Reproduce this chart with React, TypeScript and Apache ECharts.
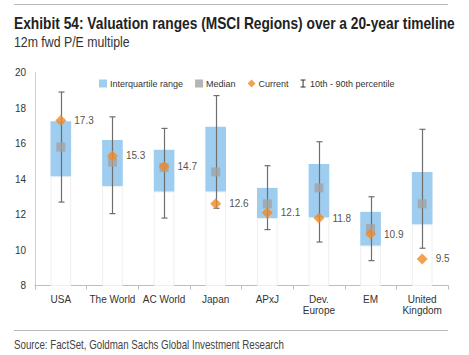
import React, { useEffect, useRef } from "react";
import * as echarts from "echarts";

const categories = ["USA", "The World", "AC World", "Japan", "APxJ", "Dev.\nEurope", "EM", "United\nKingdom"];
const p10 = [12.7, 12.05, 11.8, 12.35, 11.15, 10.45, 9.4, 10.1];
const p90 = [18.9, 17.5, 16.85, 18.7, 14.75, 16.1, 13.0, 16.8];
const q1 = [14.15, 13.6, 13.3, 13.3, 11.8, 11.85, 10.25, 11.45];
const q3 = [17.25, 16.2, 15.65, 16.95, 13.5, 14.85, 12.15, 14.4];
const median = [15.8, 14.95, 14.65, 14.4, 12.6, 13.5, 11.2, 12.6];
const current = [17.3, 15.3, 14.7, 12.6, 12.1, 11.8, 10.9, 9.5];
const yTicks = { min: 8, max: 20, interval: 2 };

const TITLE = "Exhibit 54: Valuation ranges (MSCI Regions) over a 20-year timeline";
const SUBTITLE = "12m fwd P/E multiple";
const SOURCE = "Source: FactSet, Goldman Sachs Global Investment Research";

const SANS = "'Liberation Sans', Arial, sans-serif";

export default function App() {
  const ref = useRef<HTMLDivElement>(null);
  useEffect(() => {
    if (!ref.current) return;
    const chart = echarts.init(ref.current, undefined, { renderer: "svg" });
    const spread = q3.map((v, i) => +(v - q1[i]).toFixed(2));
    chart.setOption({
      animation: false,
      backgroundColor: "#ffffff",
      textStyle: { fontFamily: SANS },
      grid: { left: 35, right: 21, top: 72.5, bottom: 69.5, containLabel: false },
      graphic: [
        { type: "line", shape: { x1: 14, y1: 4.5, x2: 448, y2: 4.5 }, style: { stroke: "#b8b8b8", lineWidth: 1 } },
        {
          type: "text",
          x: 14,
          y: 15,
          scaleX: 0.86,
          style: { text: TITLE, font: `bold 16px ${SANS}`, fill: "#222" },
        },
        {
          type: "text",
          x: 14,
          y: 35,
          scaleX: 0.88,
          style: { text: SUBTITLE, font: `14px ${SANS}`, fill: "#333" },
        },
        { type: "line", shape: { x1: 14, y1: 330.5, x2: 448, y2: 330.5 }, style: { stroke: "#b8b8b8", lineWidth: 1 } },
        {
          type: "text",
          x: 14,
          y: 338,
          scaleX: 0.78,
          style: { text: SOURCE, font: `12.5px ${SANS}`, fill: "#444" },
        },
      ],
      legend: {
        left: 94,
        top: 74,
        itemWidth: 8,
        itemHeight: 8,
        itemGap: 12,
        textStyle: { fontSize: 9, color: "#333", fontFamily: SANS, padding: [0, 0, 0, -2] },
        data: [
          { name: "Interquartile range", icon: "rect", itemStyle: { color: "#9ecdef" } },
          { name: "Median", icon: "rect" },
          { name: "Current", icon: "diamond" },
          {
            name: "10th - 90th percentile",
            icon: "path://M0,0 H10 V2 H6 V14 H10 V16 H0 V14 H4 V2 H0 Z",
            itemStyle: { color: "#333" },
          },
        ],
      },
      xAxis: {
        type: "category",
        data: categories,
        axisLine: { lineStyle: { color: "#bdbdbd" } },
        axisTick: { show: true, length: 4, lineStyle: { color: "#bdbdbd" } },
        axisLabel: { color: "#333", fontSize: 10, margin: 8, lineHeight: 11, interval: 0 },
        splitLine: { show: false },
      },
      yAxis: {
        type: "value",
        min: yTicks.min,
        max: yTicks.max,
        interval: yTicks.interval,
        axisLine: { show: true, lineStyle: { color: "#d0d0d0" } },
        axisTick: { show: false },
        axisLabel: { color: "#333", fontSize: 10, margin: 9 },
        splitLine: { show: false },
      },
      series: [
        {
          name: "base",
          type: "bar",
          stack: "box",
          barWidth: "40%",
          data: q1,
          itemStyle: { color: "rgba(255,255,255,0)", borderColor: "#efefef", borderWidth: 1 },
          silent: true,
          z: 1,
        },
        {
          name: "Interquartile range",
          type: "bar",
          stack: "box",
          barWidth: "40%",
          data: spread,
          itemStyle: { color: "#9ecdef" },
          z: 2,
        },
        {
          name: "10th - 90th percentile",
          type: "custom",
          z: 3,
          itemStyle: { color: "#333" },
          data: categories.map((_, i) => [i, p10[i], p90[i]]),
          renderItem: (params: any, api: any) => {
            const idx = api.value(0);
            const lo = api.coord([idx, api.value(1)]);
            const hi = api.coord([idx, api.value(2)]);
            const x = Math.round(lo[0]) + 0.5;
            const st = { stroke: "#6e6e6e", lineWidth: 1.2 };
            return {
              type: "group",
              children: [
                { type: "line", shape: { x1: x, y1: lo[1], x2: x, y2: hi[1] }, style: st },
                { type: "line", shape: { x1: x - 3, y1: lo[1], x2: x + 3, y2: lo[1] }, style: st },
                { type: "line", shape: { x1: x - 3, y1: hi[1], x2: x + 3, y2: hi[1] }, style: st },
              ],
            };
          },
        },
        {
          name: "Median",
          type: "scatter",
          symbol: "rect",
          symbolSize: 9,
          data: median,
          itemStyle: { color: "#a3a3a3" },
          z: 4,
        },
        {
          name: "Current",
          type: "scatter",
          symbol: "diamond",
          symbolSize: 11,
          data: current,
          itemStyle: { color: "#f08a24" },
          label: {
            show: true,
            position: "right",
            distance: 8,
            color: "#222",
            fontSize: 10,
            formatter: (p: any) => p.value.toFixed(1),
          },
          z: 5,
        },
      ],
    });
    return () => chart.dispose();
  }, []);
  return <div ref={ref} style={{ width: 469, height: 355, position: "absolute", left: 0, top: 0 }} />;
}
